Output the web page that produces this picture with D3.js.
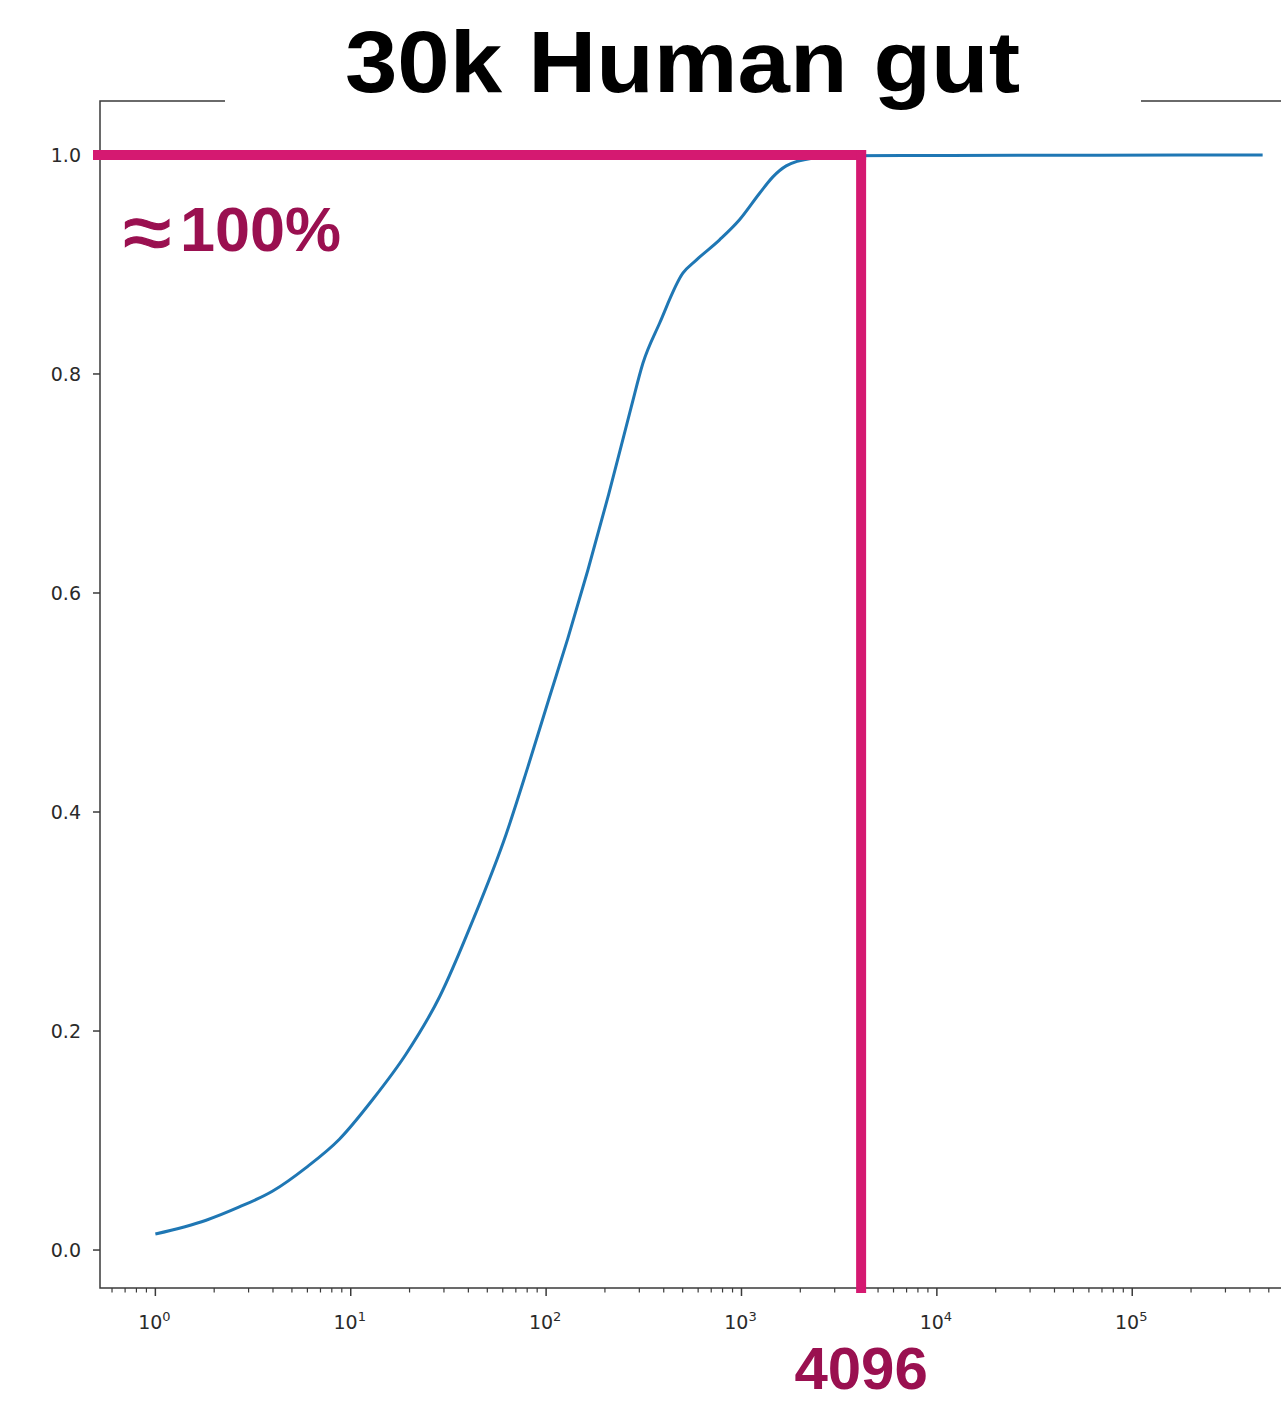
<!DOCTYPE html>
<html>
<head>
<meta charset="utf-8">
<script src="https://cdn.jsdelivr.net/npm/d3@7"></script>
<style>
  html, body { margin: 0; padding: 0; background: #fff; }
  svg { display: block; overflow: hidden; }
</style>
</head>
<body>
<div id="chart"></div>
<script>
// Cumulative fraction of proteins covered vs. cluster size (log x axis)
const sizes = [1, 1.82, 2.69, 3.99, 5.91, 8.75, 12.96, 19.2, 28.5, 42.1, 62.5, 80.6, 104.1,
  129.2, 163.5, 209, 272.8, 312.9, 380.8, 501, 586.8, 772.7, 977, 1238, 1448, 1694, 2300,
  3441, 11600, 68100, 465000];
const fractions = [0.0146, 0.0272, 0.0393, 0.0539, 0.0753, 0.1012, 0.1375, 0.1790, 0.2313,
  0.3008, 0.380, 0.441, 0.505, 0.5586, 0.6208, 0.690, 0.770, 0.8098, 0.8463, 0.892, 0.904,
  0.9225, 0.9408, 0.965, 0.980, 0.990, 0.997, 0.9993, 0.9995, 0.9998, 1.0];

const xTickExponents = [0, 1, 2, 3, 4, 5];
const yTickValues = [0.0, 0.2, 0.4, 0.6, 0.8, 1.0];
const yTickLabels = ["0.0", "0.2", "0.4", "0.6", "0.8", "1.0"];

const titleText = "30k Human gut";
const thresholdSize = 4096;
const thresholdLabel = "4096";
const coverageValue = 1.0;
const coverageSymbol = "\u2248";
const coverageLabel = "100%";

const W = 1281, H = 1401;
const plot = { left: 100, top: 101, right: 1318, bottom: 1288 };

const svg = d3.select("#chart").append("svg")
  .attr("width", W).attr("height", H)
  .attr("viewBox", `0 0 ${W} ${H}`);

// Axis limits with a 5% margin around the data
const lx0 = Math.log10(d3.min(sizes)), lx1 = Math.log10(d3.max(sizes));
const mx = (lx1 - lx0) * 0.05;
const x = d3.scaleLog()
  .domain([Math.pow(10, lx0 - mx), Math.pow(10, lx1 + mx)])
  .range([plot.left, plot.right]);

const y0 = d3.min(fractions), y1 = d3.max(fractions);
const my = (y1 - y0) * 0.05;
const y = d3.scaleLinear()
  .domain([y0 - my, y1 + my])
  .range([plot.bottom, plot.top]);

const spineColor = "#3a3a3a";
const tickColor = "#3a3a3a";
const labelColor = "#2a2a2a";

// Minor ticks on the log axis
const minor = [];
for (let e = -1; e <= 6; e++) {
  for (let m = 2; m <= 9; m++) {
    const v = m * Math.pow(10, e);
    if (v >= x.domain()[0] && v <= x.domain()[1]) minor.push(v);
  }
}
svg.append("g").selectAll("line").data(minor).join("line")
  .attr("x1", d => x(d)).attr("x2", d => x(d))
  .attr("y1", plot.bottom).attr("y2", plot.bottom + 4.5)
  .attr("stroke", tickColor).attr("stroke-width", 1.2);

// Major x ticks + labels 10^n
const xMaj = svg.append("g");
xMaj.selectAll("line").data(xTickExponents).join("line")
  .attr("x1", d => x(Math.pow(10, d))).attr("x2", d => x(Math.pow(10, d)))
  .attr("y1", plot.bottom).attr("y2", plot.bottom + 8)
  .attr("stroke", tickColor).attr("stroke-width", 1.5);
const xl = xMaj.selectAll("text").data(xTickExponents).join("text")
  .attr("x", d => x(Math.pow(10, d)) - 1)
  .attr("y", 1329)
  .attr("text-anchor", "middle")
  .attr("font-family", "DejaVu Sans, sans-serif")
  .attr("fill", labelColor);
xl.append("tspan").attr("font-size", 19).text("10");
xl.append("tspan").attr("font-size", 13).attr("dy", -8).text(d => d);

// Y ticks + labels
const yAx = svg.append("g");
yAx.selectAll("line").data(yTickValues).join("line")
  .attr("x1", plot.left - 7).attr("x2", plot.left)
  .attr("y1", d => y(d)).attr("y2", d => y(d))
  .attr("stroke", tickColor).attr("stroke-width", 1.5);
yAx.selectAll("text").data(yTickValues).join("text")
  .attr("x", plot.left - 19)
  .attr("y", d => y(d))
  .attr("dy", "0.36em")
  .attr("text-anchor", "end")
  .attr("font-family", "DejaVu Sans, sans-serif")
  .attr("font-size", 19)
  .attr("fill", labelColor)
  .text((d, i) => yTickLabels[i]);

// Curve
const line = d3.line()
  .x((d, i) => x(sizes[i]))
  .y(d => y(d))
  .curve(d3.curveMonotoneX);
svg.append("path")
  .datum(fractions)
  .attr("d", line)
  .attr("fill", "none")
  .attr("stroke", "#1f77b4")
  .attr("stroke-width", 3)
  .attr("stroke-linejoin", "round")
  .attr("stroke-linecap", "butt");

// Axes frame
svg.append("rect")
  .attr("x", plot.left).attr("y", plot.top)
  .attr("width", plot.right - plot.left).attr("height", plot.bottom - plot.top)
  .attr("fill", "none").attr("stroke", spineColor).attr("stroke-width", 1.5);

// Threshold annotation lines
const annoColor = "#d51971";
const textColor = "#9a1050";
const hx = x(thresholdSize), hy = y(coverageValue);
svg.append("line")
  .attr("x1", plot.left - 7).attr("x2", hx + 5)
  .attr("y1", hy).attr("y2", hy)
  .attr("stroke", annoColor).attr("stroke-width", 10);
svg.append("line")
  .attr("x1", hx).attr("x2", hx)
  .attr("y1", hy - 5).attr("y2", plot.bottom + 5)
  .attr("stroke", annoColor).attr("stroke-width", 10);

const cov = svg.append("text")
  .attr("x", 123).attr("y", 251)
  .attr("font-family", "Liberation Sans, Arial, Helvetica, sans-serif")
  .attr("fill", textColor);
cov.append("tspan").attr("y", 262).attr("font-size", 88).attr("font-weight", 400)
  .attr("stroke", textColor).attr("stroke-width", 1.2)
  .text(coverageSymbol);
cov.append("tspan").attr("x", 180).attr("y", 251).attr("font-size", 63).attr("font-weight", 700)
  .text(coverageLabel);

svg.append("text")
  .attr("x", hx).attr("y", 1389)
  .attr("text-anchor", "middle")
  .attr("font-family", "Liberation Sans, Arial, Helvetica, sans-serif")
  .attr("font-size", 60).attr("font-weight", 700)
  .attr("fill", textColor)
  .text(thresholdLabel);

// Title on a white band over the top spine
svg.append("rect")
  .attr("x", 225).attr("y", 0).attr("width", 1141 - 225).attr("height", plot.top + 3)
  .attr("fill", "#fff");
svg.append("text")
  .attr("x", 345).attr("y", 92)
  .attr("font-family", "Liberation Sans, Arial, Helvetica, sans-serif")
  .attr("font-size", 88).attr("font-weight", 700)
  .attr("textLength", 675).attr("lengthAdjust", "spacingAndGlyphs")
  .attr("fill", "#000")
  .text(titleText);
</script>
</body>
</html>
